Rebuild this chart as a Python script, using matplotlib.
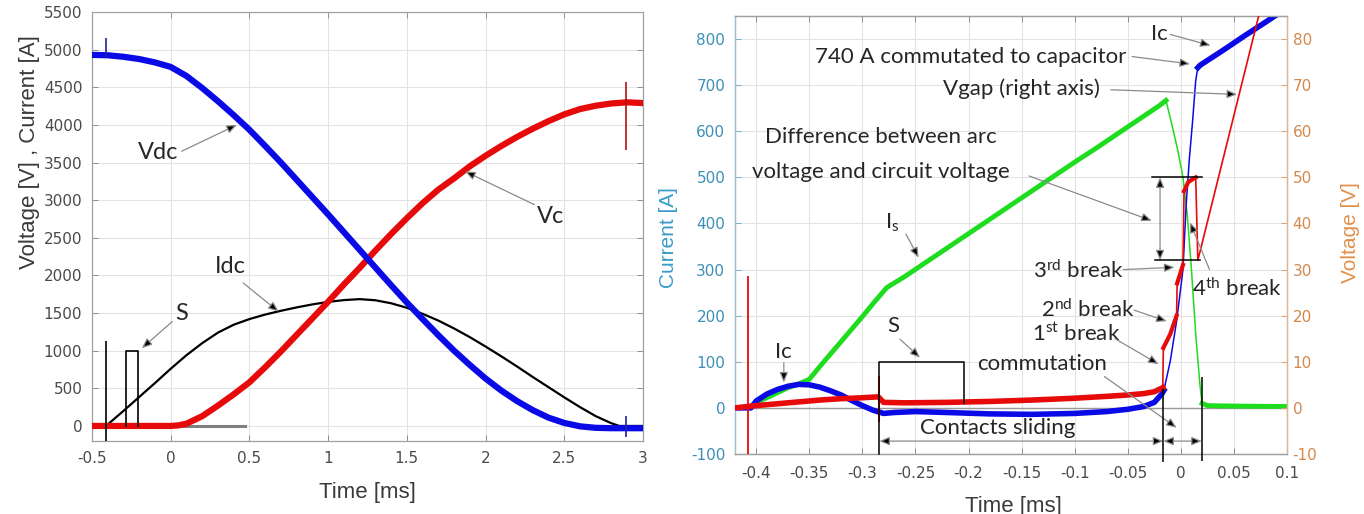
import matplotlib
matplotlib.use('Agg')
import matplotlib.pyplot as plt

plt.rcParams['font.family'] = 'DejaVu Sans'
plt.rcParams['axes.unicode_minus'] = False
plt.rcParams['mathtext.fontset'] = 'custom'
plt.rcParams['mathtext.rm'] = 'Lato'
plt.rcParams['mathtext.it'] = 'Lato:italic'
plt.rcParams['mathtext.bf'] = 'Lato:bold'

# ---------------- left panel: capacitor discharge, time in ms
t_left = [-0.5, -0.4, -0.3, -0.2, -0.1, 0.0, 0.1, 0.2, 0.3, 0.4, 0.5, 0.6, 0.7, 0.8, 0.9,
          1.0, 1.1, 1.2, 1.3, 1.4, 1.5, 1.6, 1.7, 1.8, 1.9, 2.0, 2.1, 2.2, 2.3, 2.4, 2.5,
          2.6, 2.7, 2.8, 2.9, 3.0]
vdc = [4930, 4925, 4905, 4875, 4830, 4770, 4650, 4490, 4315, 4130, 3935, 3720, 3500, 3270, 3040,
       2810, 2575, 2340, 2105, 1870, 1640, 1420, 1205, 1000, 810, 630, 470, 330, 210, 110, 40,
       -5, -25, -30, -30, -30]

t_vc = [-0.5, -0.4, -0.3, -0.2, -0.1, 0.0, 0.05, 0.1, 0.2, 0.3, 0.4, 0.5, 0.6, 0.7, 0.8, 0.9,
        1.0, 1.1, 1.2, 1.3, 1.4, 1.5, 1.6, 1.7, 1.8, 1.9, 2.0, 2.1, 2.2, 2.3, 2.4, 2.5,
        2.6, 2.7, 2.8, 2.9, 3.0]
vc = [0, 0, 0, 0, 0, 0, 8, 30, 130, 270, 420, 580, 780, 990, 1210, 1430,
      1650, 1880, 2100, 2330, 2550, 2760, 2960, 3140, 3290, 3450, 3590, 3720, 3840, 3950, 4050, 4140,
      4210, 4255, 4285, 4300, 4290]

t_idc = [-0.5, -0.42, -0.4, -0.3, -0.2, -0.1, 0.0, 0.1, 0.2, 0.3, 0.4, 0.5, 0.6, 0.7, 0.8, 0.9,
         1.0, 1.1, 1.2, 1.3, 1.4, 1.5, 1.6, 1.7, 1.8, 1.9, 2.0, 2.1, 2.2, 2.3, 2.4, 2.5,
         2.6, 2.7, 2.8, 2.85, 3.0]
idc = [0, 0, 20, 200, 385, 570, 760, 940, 1100, 1240, 1345, 1420, 1480, 1530, 1575, 1615,
       1648, 1672, 1685, 1670, 1630, 1570, 1490, 1400, 1295, 1180, 1055, 925, 790, 650, 515, 380,
       250, 130, 35, 0, 0]

# spikes on the traces (time, low, high)
vdc_spike_t = [-0.41, 2.89]
vdc_spike_lo = [4890, -150]
vdc_spike_hi = [5160, 130]
vc_spike_t = [2.89]
vc_spike_lo = [3660]
vc_spike_hi = [4570]

# trigger and S signal
trig_t = -0.41
trig_lo, trig_hi = -200, 1130
s_t = [-0.285, -0.285, -0.205, -0.205]
s_v = [0, 1000, 1000, 0]
zero_t = [-0.5, 0.47]
zero_v = [0, 0]

xt_left = [-0.5, 0, 0.5, 1, 1.5, 2, 2.5, 3]
xt_left_lab = ['-0.5', '0', '0.5', '1', '1.5', '2', '2.5', '3']
yt_left = [0, 500, 1000, 1500, 2000, 2500, 3000, 3500, 4000, 4500, 5000, 5500]

# ---------------- right panel: zoom on commutation
t_ic = [-0.42, -0.405, -0.40, -0.39, -0.38, -0.37, -0.36, -0.35, -0.34, -0.33,
        -0.32, -0.31, -0.30, -0.29, -0.28, -0.27, -0.25, -0.22, -0.18, -0.14,
        -0.10, -0.07, -0.05, -0.035, -0.025, -0.018, -0.016, -0.010, -0.004, 0.002,
        0.005, 0.008, 0.011, 0.014, 0.016, 0.018, 0.04, 0.06, 0.08, 0.095]
ic = [0, 0, 15, 30, 40, 47, 51, 50, 45, 37,
      28, 16, 5, -5, -12, -10, -8, -10, -13, -14,
      -12, -8, -3, 3, 12, 30, 38, 101, 188, 300,
      440, 540, 620, 710, 738, 743, 776, 807, 837, 860]

t_is = [-0.40, -0.39, -0.38, -0.37, -0.36, -0.35, -0.34, -0.33, -0.32, -0.31,
        -0.30, -0.29, -0.277, -0.26, -0.24, -0.22, -0.20, -0.18, -0.16, -0.14,
        -0.12, -0.10, -0.08, -0.06, -0.04, -0.02, -0.014, -0.008, -0.003, 0.002,
        0.006, 0.010, 0.014, 0.018, 0.020, 0.025, 0.05, 0.1]
i_s = [12, 22, 33, 44, 52, 62, 90, 117, 144, 171,
       198, 226, 261, 285, 316, 347, 378, 409, 440, 471,
       502, 533, 563, 594, 625, 656, 667, 610, 560, 500,
       420, 300, 160, 50, 10, 5, 4, 3]

t_vgap = [-0.42, -0.40, -0.38, -0.36, -0.34, -0.32, -0.30, -0.285, -0.28, -0.26,
          -0.22, -0.18, -0.14, -0.10, -0.07, -0.05, -0.035, -0.025, -0.017, -0.0165,
          -0.010, -0.004, -0.0035, 0.002, 0.003, 0.007, 0.014, 0.016, 0.0733]
vgap = [0, 0.5, 0.9, 1.3, 1.7, 2.0, 2.2, 2.4, 1.2, 1.1,
        1.2, 1.4, 1.7, 2.1, 2.5, 2.8, 3.1, 3.5, 4.4, 13.0,
        16.0, 20.0, 27.0, 31.0, 47.0, 49.0, 50.0, 32.0, 85.0]
vgap_spike_t = [-0.4075, -0.284]
vgap_spike_lo = [-10, -3]
vgap_spike_hi = [28.6, 7]

s2_t = [-0.284, -0.284, -0.2045, -0.2045]
s2_v = [-100, 100, 100, 10]
mark_t = [-0.0165, 0.0197]
mark_lo = [-118, -115]
mark_hi = [40, 68]

xt_right = [-0.4, -0.35, -0.3, -0.25, -0.2, -0.15, -0.1, -0.05, 0, 0.05, 0.1]
xt_right_lab = ['-0.4', '-0.35', '-0.3', '-0.25', '-0.2', '-0.15', '-0.1', '-0.05', '0', '0.05', '0.1']
yt_cur = [-100, 0, 100, 200, 300, 400, 500, 600, 700, 800]
yt_volt = [-10, 0, 10, 20, 30, 40, 50, 60, 70, 80]

BLUE = '#0a0ae6'
RED = '#e60a0a'
GREEN = '#1edc1e'
TXT = '#262626'
SPINE = '#a0a0a0'
ANN = dict(family='Lato', color=TXT)


def arrow(ax, start, tip, style='-|>', tr=None):
    tr = ax.transData if tr is None else tr
    ax.annotate('', xy=tip, xytext=start, xycoords=tr, textcoords=tr,
                arrowprops=dict(arrowstyle=style + ',head_length=0.6,head_width=0.25',
                                ec='#8a8a8a', fc='black', lw=0.9,
                                shrinkA=0, shrinkB=0))


def piece(ts, vs, lo, hi):
    idx = [i for i, t in enumerate(ts) if lo <= t <= hi]
    return [ts[i] for i in idx], [vs[i] for i in idx]


fig = plt.figure(figsize=(13.64, 5.14), dpi=100)

# ============ left
ax1 = fig.add_axes([92 / 1364, 73 / 514, 551 / 1364, 429 / 514])
ax1.plot(zero_t, zero_v, color='#808080', lw=2.2, zorder=1)
ax1.plot(t_idc, idc, color='black', lw=1.6, zorder=2)
ax1.plot(t_vc, vc, color=RED, lw=4.5, zorder=3)
ax1.plot(t_left, vdc, color=BLUE, lw=4.5, zorder=4)
ax1.vlines(vdc_spike_t, vdc_spike_lo, vdc_spike_hi, color='#2020a0', lw=1.2, zorder=5)
ax1.vlines(vc_spike_t, vc_spike_lo, vc_spike_hi, color='#b01010', lw=1.2, zorder=5)
ax1.vlines(trig_t, trig_lo, trig_hi, color='black', lw=1.2, zorder=5)
ax1.plot(s_t, s_v, color='black', lw=1.2, zorder=5)

ax1.set_xlim(-0.5, 3)
ax1.set_ylim(-200, 5500)
ax1.set_xticks(xt_left)
ax1.set_xticklabels(xt_left_lab)
ax1.set_yticks(yt_left)
ax1.grid(True, color='#e3e3e3', lw=0.8)
ax1.set_axisbelow(True)
ax1.tick_params(direction='in', top=True, right=True, length=4, width=0.7,
                color='#909090', labelcolor='#4a4a4a', labelsize=11, pad=7)
for sp in ax1.spines.values():
    sp.set_color(SPINE)
    sp.set_linewidth(0.9)
ax1.set_xlabel('Time [ms]', family='Liberation Sans', fontsize=16, color='#3a3a3a')
ax1.xaxis.set_label_coords(0.499, -0.095)
ax1.set_ylabel('Voltage [V] , Current [A]', family='Liberation Sans', fontsize=16,
               color='#3a3a3a')
ax1.yaxis.set_label_coords(-0.095, 0.674)

ax1.text(-0.08, 3635, 'Vdc', fontsize=17, ha='center', va='center', **ANN)
arrow(ax1, (0.07, 3650), (0.42, 4000))
ax1.text(2.41, 2784, 'Vc', fontsize=17, ha='center', va='center', **ANN)
arrow(ax1, (2.31, 2940), (1.87, 3382))
ax1.text(0.38, 2119, 'Idc', fontsize=17, ha='center', va='center', **ANN)
arrow(ax1, (0.46, 1900), (0.685, 1520))
ax1.text(0.07, 1498, 'S', fontsize=17, ha='center', va='center', **ANN)
arrow(ax1, (0.01, 1387), (-0.183, 1033))

# ============ right
ax = fig.add_axes([735 / 1364, 60 / 514, 552 / 1364, 438 / 514])
ax2 = ax.twinx()
ax.axhline(0, color='#9a9a9a', lw=1.0, zorder=1)

for lo, hi, lw in ((-1, -0.016, 4), (-0.016, 0.016, 1.1), (0.016, 1, 4)):
    ax.plot(*piece(t_ic, ic, lo, hi), color=BLUE, lw=lw, zorder=3)

for lo, hi, lw in ((-1, -0.014, 3.5), (-0.014, 0.020, 1.1), (0.020, 1, 3.5)):
    ax.plot(*piece(t_is, i_s, lo, hi), color=GREEN, lw=lw, zorder=2)

# arc voltage: noisy band, thin path through the breaks, thin ramp after
ax2.plot(*piece(t_vgap, vgap, -1, -0.017), color=RED, lw=4, zorder=3)
ax2.plot(*piece(t_vgap, vgap, -0.017, 1), color=RED, lw=1.2, zorder=3)
for lo, hi in ((-0.0165, -0.004), (-0.0035, 0.002), (0.003, 0.014)):
    ax2.plot(*piece(t_vgap, vgap, lo, hi), color=RED, lw=3, zorder=3)
ax2.vlines(vgap_spike_t, vgap_spike_lo, vgap_spike_hi, color=RED, lw=1.3, zorder=3)

ax.set_xlim(-0.42, 0.1)
ax.set_ylim(-100, 850)
ax2.set_ylim(-10, 85)
ax.set_xticks(xt_right)
ax.set_xticklabels(xt_right_lab)
ax.set_yticks(yt_cur)
ax2.set_yticks(yt_volt)
ax.grid(True, color='#e3e3e3', lw=0.8)
ax.set_axisbelow(True)
ax.tick_params(axis='x', direction='in', top=True, length=4, width=0.7,
               color='#909090', labelcolor='#4a4a4a', labelsize=11, pad=9)
ax.tick_params(axis='y', direction='in', length=4, width=0.7,
               color='#7fb0cc', labelcolor='#3d8fb8', labelsize=11, pad=7)
ax2.tick_params(axis='y', direction='in', length=4, width=0.7,
                color='#e0a070', labelcolor='#d4884a', labelsize=11, pad=4)
for a in (ax, ax2):
    for name, sp in a.spines.items():
        sp.set_linewidth(0.9)
        sp.set_color(SPINE)
ax2.spines['left'].set_color('#9cbfd2')
ax2.spines['right'].set_color('#e2b894')
ax.set_xlabel('Time [ms]', family='Liberation Sans', fontsize=16, color='#3a3a3a')
ax.xaxis.set_label_coords(0.504, -0.095)
ax.set_ylabel('Current [A]', family='Liberation Sans', fontsize=15, color='#3a9bc8')
ax.yaxis.set_label_coords(-0.103, 0.495)
ax2.set_ylabel('Voltage [V]', family='Liberation Sans', fontsize=15, color='#e0904a')
ax2.yaxis.set_label_coords(1.097, 0.505)

tr = ax.transData
def note(x, y, s, **kw):
    ax2.text(x, y, s, transform=tr, fontsize=16, ha='center', va='center', **ANN, **kw)

# S pulse, commutation markers, difference bracket
ax2.plot(s2_t, s2_v, color='black', lw=1.1, transform=tr, clip_on=False, zorder=5)
ax2.vlines(mark_t, mark_lo, mark_hi, color='black', lw=1.1, transform=tr, clip_on=False, zorder=5)
ax2.plot([-0.0274, 0.0197], [500, 500], color='black', lw=1.1, transform=tr, zorder=5)
ax2.plot([-0.0243, 0.0181], [320, 320], color='black', lw=1.1, transform=tr, zorder=5)
arrow(ax2, (-0.0196, 320), (-0.0196, 500), style='<|-|>', tr=tr)

note(-0.02, 812, 'Ic')
arrow(ax2, (-0.010, 810), (0.028, 786), tr=tr)
note(-0.198, 761, '740 A commutated to capacitor')
arrow(ax2, (-0.046, 762), (0.0087, 746), tr=tr)
note(-0.15, 692, 'Vgap (right axis)')
arrow(ax2, (-0.066, 690), (0.053, 680), tr=tr)
note(-0.283, 587, 'Difference between arc')
note(-0.283, 511, 'voltage and circuit voltage')
arrow(ax2, (-0.143, 503), (-0.0274, 406), tr=tr)
note(0.053, 258, '4$^{\\mathrm{th}}$ break')
arrow(ax2, (0.027, 300), (0.0087, 402), tr=tr)
note(-0.097, 297, '3$^{\\mathrm{rd}}$ break')
arrow(ax2, (-0.054, 300), (-0.006, 305), tr=tr)
note(-0.088, 214, '2$^{\\mathrm{nd}}$ break')
arrow(ax2, (-0.044, 212), (-0.0133, 188), tr=tr)
note(-0.099, 160, '1$^{\\mathrm{st}}$ break')
arrow(ax2, (-0.062, 150), (-0.021, 95), tr=tr)
note(-0.131, 95, 'commutation')
arrow(ax2, (-0.072, 68), (-0.004, -43), tr=tr)
note(-0.271, 178, 'S')
arrow(ax2, (-0.2646, 149), (-0.2457, 109), tr=tr)
note(-0.374, 122, 'Ic')
arrow(ax2, (-0.374, 98), (-0.374, 55), tr=tr)
note(-0.272, 402, 'I$_{\\mathrm{s}}$')
arrow(ax2, (-0.259, 377), (-0.247, 326), tr=tr)
note(-0.1725, -43, 'Contacts sliding')
arrow(ax2, (-0.284, -72), (-0.0165, -72), style='<|-|>', tr=tr)
arrow(ax2, (-0.0165, -72), (0.0197, -72), style='<|-|>', tr=tr)

fig.savefig('out.png', dpi=100)
